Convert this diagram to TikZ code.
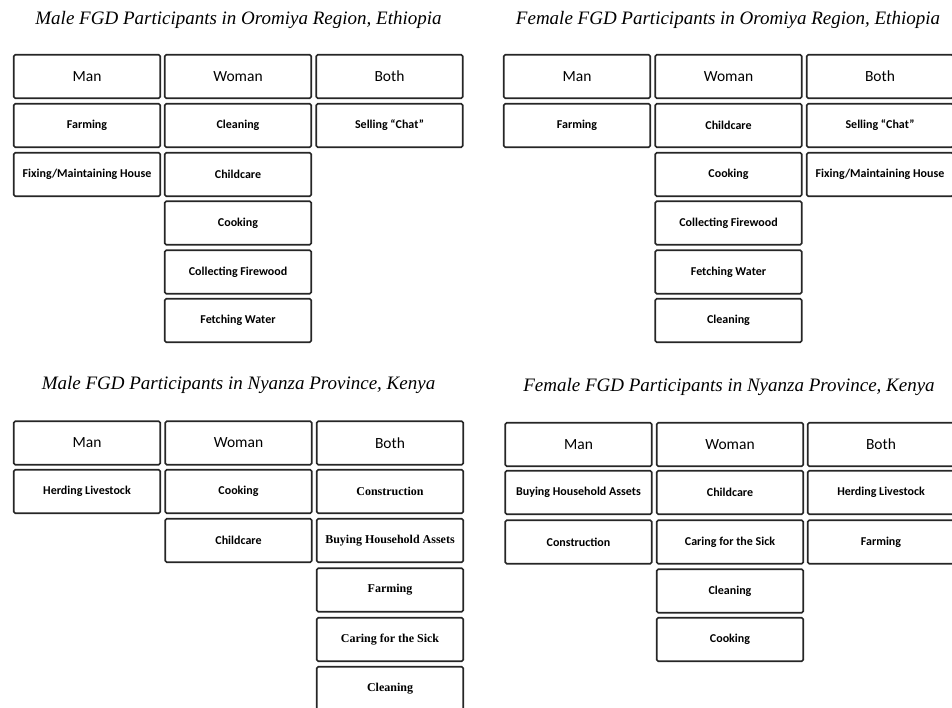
\documentclass[tikz,border=0pt]{standalone}
\usepackage{fontspec}
\setmainfont{Carlito}
\newfontfamily\titlefont{Liberation Serif}
\newfontfamily\cellserif{Liberation Serif}
\begin{document}
\begin{tikzpicture}[x=1pt,y=-1pt,
 box/.style={draw=black!85, line width=1.6pt, rounded corners=1.5pt, minimum width=146.5pt, minimum height=43.5pt, inner sep=0pt, fill=white},
 hdr/.style={box, font=\fontsize{15.5}{18}\selectfont},
 cell/.style={box, font=\fontsize{12}{14}\selectfont\bfseries},
 scell/.style={box, font=\cellserif\fontsize{12}{14}\selectfont\bfseries},
 ttl/.style={font=\titlefont\itshape\fontsize{19}{22}\selectfont}]
\useasboundingbox (0,0) rectangle (952,708);

% ---------- Top left ----------
\node[ttl] (ta) at (238.5,20) {Male FGD Participants in Oromiya Region, Ethiopia};
\node[hdr] (a-man) at (87,76.5) {Man};
\node[hdr] (a-woman) at (238,76.5) {Woman};
\node[hdr] (a-both) at (389.5,76.5) {Both};
\node[cell] (a-m1) at (87,125.5) {Farming};
\node[cell] (a-m2) at (87,174.5) {Fixing/Maintaining House};
\node[cell] (a-w1) at (238,125.5) {Cleaning};
\node[cell] (a-w2) at (238,174.5) {Childcare};
\node[cell] (a-w3) at (238,223) {Cooking};
\node[cell] (a-w4) at (238,272) {Collecting Firewood};
\node[cell] (a-w5) at (238,320.5) {Fetching Water};
\node[cell] (a-b1) at (389.5,125.5) {Selling “Chat”};

% ---------- Top right ----------
\node[ttl] (tb) at (728,20) {Female FGD Participants in Oromiya Region, Ethiopia};
\node[hdr] (b-man) at (577,76.5) {Man};
\node[hdr] (b-woman) at (728.5,76.5) {Woman};
\node[hdr] (b-both) at (880,76.5) {Both};
\node[cell] (b-m1) at (577,125.5) {Farming};
\node[cell] (b-w1) at (728.5,125.5) {Childcare};
\node[cell] (b-w2) at (728.5,174.5) {Cooking};
\node[cell] (b-w3) at (728.5,223) {Collecting Firewood};
\node[cell] (b-w4) at (728.5,272) {Fetching Water};
\node[cell] (b-w5) at (728.5,320.5) {Cleaning};
\node[cell] (b-b1) at (880,125.5) {Selling “Chat”};
\node[cell] (b-b2) at (880,174.5) {Fixing/Maintaining House};

% ---------- Bottom left ----------
\node[ttl] (tc) at (238.5,385) {Male FGD Participants in Nyanza Province, Kenya};
\node[hdr] (c-man) at (87,443) {Man};
\node[hdr] (c-woman) at (238.5,443) {Woman};
\node[hdr] (c-both) at (390,443) {Both};
\node[cell] (c-m1) at (87,491.5) {Herding Livestock};
\node[cell] (c-w1) at (238.5,491.5) {Cooking};
\node[cell] (c-w2) at (238.5,540.5) {Childcare};
\node[scell] (c-b1) at (390,491.5) {Construction};
\node[scell] (c-b2) at (390,540.5) {Buying Household Assets};
\node[scell] (c-b3) at (390,590) {Farming};
\node[scell] (c-b4) at (390,639.5) {Caring for the Sick};
\node[scell] (c-b5) at (390,688.5) {Cleaning};

% ---------- Bottom right ----------
\node[ttl] (td) at (729,387) {Female FGD Participants in Nyanza Province, Kenya};
\node[hdr] (d-man) at (578.5,444.5) {Man};
\node[hdr] (d-woman) at (730,444.5) {Woman};
\node[hdr] (d-both) at (881,444.5) {Both};
\node[cell] (d-m1) at (578.5,492.5) {Buying Household Assets};
\node[cell] (d-m2) at (578.5,542) {Construction};
\node[cell] (d-w1) at (730,492.5) {Childcare};
\node[cell] (d-w2) at (730,542) {Caring for the Sick};
\node[cell] (d-w3) at (730,591) {Cleaning};
\node[cell] (d-w4) at (730,639.5) {Cooking};
\node[cell] (d-b1) at (881,492.5) {Herding Livestock};
\node[cell] (d-b2) at (881,542) {Farming};
\end{tikzpicture}
\end{document}
